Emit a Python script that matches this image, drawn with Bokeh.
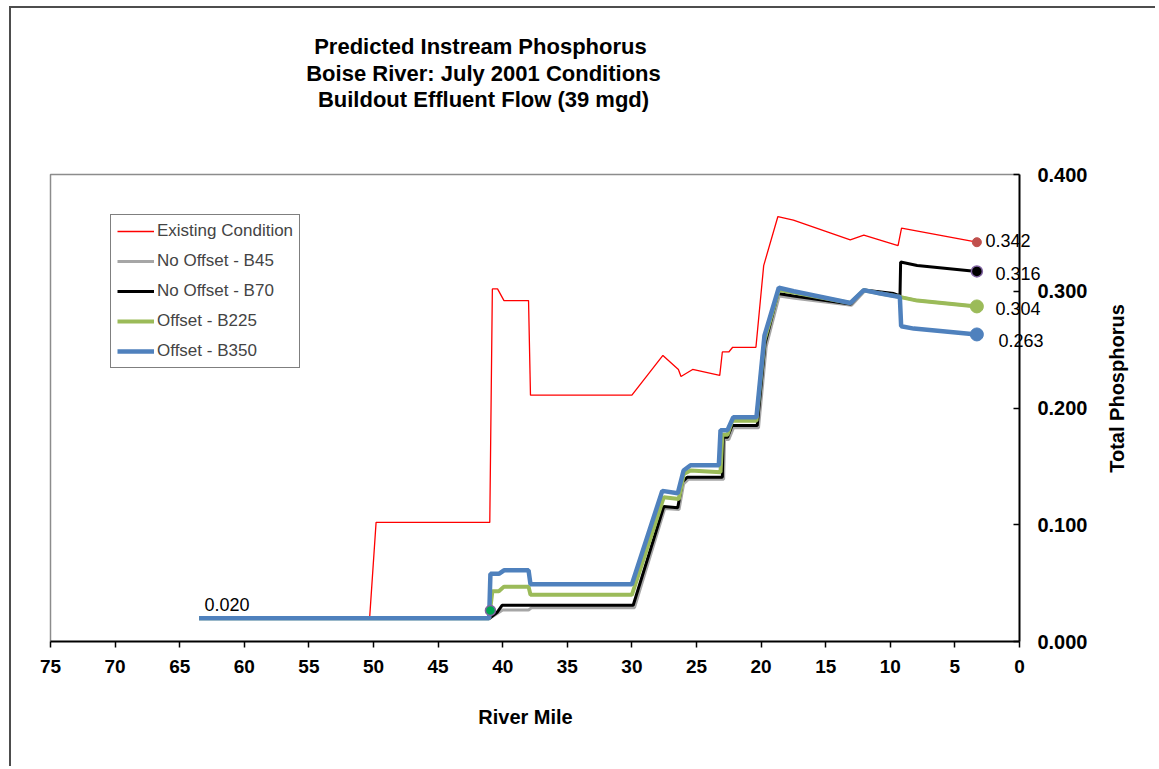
import math
from bokeh.plotting import figure
from bokeh.models import Range1d, Label, FixedTicker, PrintfTickFormatter
from bokeh.embed import file_html
from bokeh.resources import INLINE

FONT = "Liberation Sans"

# ---------------- data ----------------
title_lines = ["Predicted Instream  Phosphorus",
               "Boise River: July 2001 Conditions",
               "Buildout Effluent Flow (39 mgd)"]
x_title = "River Mile"
y_title = "Total Phosphorus"
x_ticks = [75, 70, 65, 60, 55, 50, 45, 40, 35, 30, 25, 20, 15, 10, 5, 0]
y_ticks = [0.0, 0.1, 0.2, 0.3, 0.4]

series_names = ["Existing Condition", "No Offset - B45", "No Offset - B70",
                "Offset - B225", "Offset - B350"]

existing_x = [63.5, 50.3, 49.8, 41.0, 40.8, 40.4, 39.9, 38.0, 37.85, 30.0, 27.6,
              26.4, 26.2, 25.3, 23.2, 23.0, 22.5, 22.2, 20.4, 19.8, 18.7, 17.5,
              13.1, 12.05, 9.4, 9.13, 3.3]
existing_y = [0.020, 0.020, 0.102, 0.102, 0.302, 0.302, 0.292, 0.292, 0.211, 0.211,
              0.245, 0.233, 0.227, 0.233, 0.228, 0.248, 0.248, 0.252, 0.252, 0.322,
              0.364, 0.361, 0.344, 0.348, 0.339, 0.354, 0.342]

b45_x = [63.5, 41.0, 40.43, 40.0, 38.0, 37.75, 29.8, 27.45, 26.35, 26.0, 25.62,
         22.9, 22.83, 22.5, 22.14, 20.2, 19.6, 18.6, 17.4, 13.0, 12.0, 9.7, 9.2,
         7.92, 3.3]
b45_y = [0.020, 0.020, 0.024, 0.027, 0.027, 0.029, 0.029, 0.114, 0.113, 0.135,
         0.139, 0.139, 0.173, 0.173, 0.183, 0.183, 0.253, 0.296, 0.294, 0.288,
         0.300, 0.297, 0.295, 0.292, 0.287]

b70_x = [63.5, 41.0, 40.43, 40.05, 29.9, 27.53, 26.45, 26.1, 25.72, 23.0, 22.93,
         22.6, 22.24, 20.3, 19.7, 18.7, 17.47, 13.08, 12.05, 9.73, 9.25, 9.2,
         7.92, 3.3]
b70_y = [0.020, 0.020, 0.025, 0.031, 0.031, 0.1156, 0.1145, 0.1365, 0.1407,
         0.1407, 0.175, 0.175, 0.185, 0.185, 0.255, 0.298, 0.296, 0.289, 0.301,
         0.298, 0.296, 0.325, 0.322, 0.317]

b225_x = [63.5, 41.05, 40.8, 40.3, 39.9, 38.0, 37.85, 30.0, 27.53, 26.37, 25.98,
          25.46, 23.14, 23.0, 22.6, 22.24, 20.36, 19.74, 18.63, 17.47, 13.08,
          12.05, 10.76, 9.2, 7.92, 3.3]
b225_y = [0.020, 0.020, 0.043, 0.043, 0.047, 0.047, 0.040, 0.040, 0.1236, 0.122,
          0.1436, 0.1465, 0.145, 0.177, 0.177, 0.189, 0.189, 0.258, 0.301, 0.299,
          0.290, 0.301, 0.298, 0.295, 0.292, 0.287]

b350_x = [63.5, 41.05, 40.95, 40.3, 39.9, 38.0, 37.85, 30.0, 27.65, 26.45, 26.0,
          25.46, 23.27, 23.14, 22.6, 22.16, 20.36, 19.74, 18.63, 17.47, 13.08,
          12.05, 10.76, 9.26, 9.16, 8.18, 3.3]
b350_y = [0.020, 0.020, 0.058, 0.058, 0.061, 0.061, 0.049, 0.049, 0.129, 0.127,
          0.1465, 0.151, 0.151, 0.181, 0.181, 0.192, 0.192, 0.262, 0.303, 0.300,
          0.290, 0.301, 0.298, 0.295, 0.270, 0.268, 0.263]

end_labels = ["0.342", "0.316", "0.304", "0.263"]
start_label = "0.020"
start_marker_x = [40.95]
start_marker_y = [0.0266]

# ---------------- layout (page pixels) ----------------
PX0, PY0 = 11, 8          # canvas origin on the page (after CSS margin+border)
W, H = 1146, 760
L, B = 8, 44              # left / bottom borders
AX_L, AX_R = 50, 1019     # page x of river mile 75 and 0
AX_T, AX_B = 174, 641     # page y of 0.4 and 0.0
sx = (AX_R - AX_L) / 75.0
sy = (AX_B - AX_T) / 0.4
fr_left, fr_top = PX0 + L, PY0
fr_right, fr_bottom = PX0 + W, PY0 + H - B


def dx(px):
    return (AX_R - px) / sx


def dy(py):
    return (AX_B - py) / sy


p = figure(width=W, height=H, output_backend="svg", toolbar_location=None,
           x_range=Range1d(dx(fr_left), dx(fr_right)),
           y_range=Range1d(dy(fr_bottom), dy(fr_top)),
           y_axis_location="left", x_axis_location="below",
           min_border_left=L, min_border_top=0,
           min_border_right=0, min_border_bottom=B)
p.styles = {"margin-left": "9px", "margin-top": "6px",
            "border-left": "2px solid #4d4d4d", "border-top": "2px solid #4d4d4d"}
p.background_fill_color = "white"
p.border_fill_color = "white"
p.outline_line_color = None
p.xgrid.visible = False
p.ygrid.visible = False

xa = p.xaxis[0]
xa.fixed_location = 0
xa.bounds = (0, 75)
xa.ticker = FixedTicker(ticks=x_ticks)
xa.major_tick_out = 6
xa.major_tick_in = 0
xa.minor_tick_out = 0
xa.minor_tick_in = 0
xa.axis_line_width = 2
xa.axis_line_color = "black"
xa.major_tick_line_width = 1.5
xa.major_label_text_font = FONT
xa.major_label_text_font_style = "bold"
xa.major_label_text_font_size = "19px"
xa.major_label_text_color = "black"
xa.major_label_standoff = 12

# value axis drawn at river mile 0, labels pushed to its right side
ya = p.yaxis[0]
ya.fixed_location = 0
ya.bounds = (0, 0.4)
ya.ticker = FixedTicker(ticks=y_ticks)
ya.formatter = PrintfTickFormatter(format="%.3f")
ya.major_tick_out = 6
ya.major_tick_in = 0
ya.minor_tick_out = 0
ya.minor_tick_in = 0
ya.axis_line_width = 2
ya.axis_line_color = "black"
ya.major_tick_line_width = 1.5
ya.major_label_text_font = FONT
ya.major_label_text_font_style = "bold"
ya.major_label_text_font_size = "20px"
ya.major_label_text_color = "black"
ya.major_label_standoff = -74

# plot-area border (top and left, grey)
p.line([75, 75, 0], [0, 0.4, 0.4], line_color="#8c8c8c", line_width=1.5)

# ---------------- lines ----------------
specs = [
    (existing_x, existing_y, "#ff0000", 1.3),
    (b45_x, b45_y, "#a6a6a6", 3),
    (b70_x, b70_y, "#000000", 3),
    (b225_x, b225_y, "#9bbb59", 4),
    (b350_x, b350_y, "#4f81bd", 4.5),
]
for (xs, ys, col, w), name in zip(specs, series_names):
    p.line(xs, ys, line_color=col, line_width=w, legend_label=name)

# end markers
p.scatter([existing_x[-1]], [existing_y[-1]], size=9, fill_color="#c0504d",
          line_color="#c0504d")
p.scatter([b70_x[-1]], [b70_y[-1]], size=11, fill_color="black",
          line_color="#8064a2", line_width=1.5)
p.scatter([b225_x[-1]], [b225_y[-1]], size=13, fill_color="#9bbb59",
          line_color="#9bbb59")
p.scatter([b350_x[-1]], [b350_y[-1]], size=13, fill_color="#4f81bd",
          line_color="#4f81bd")
p.scatter(start_marker_x, start_marker_y, size=10, fill_color="#00a651",
          line_color="#8064a2", line_width=1.5)

# ---------------- texts ----------------
label_px = [(985, 240), (995, 273), (995, 308), (998, 340)]
for t, (lx, ly) in zip(end_labels, label_px):
    p.add_layout(Label(x=dx(lx), y=dy(ly), text=t, text_align="left",
                       text_baseline="middle", text_font=FONT,
                       text_font_size="18px", text_color="black"))
p.add_layout(Label(x=dx(204), y=dy(604), text=start_label, text_align="left",
                   text_baseline="middle", text_font=FONT, text_font_size="18px",
                   text_color="black"))

for t, ty in zip(title_lines, [46, 73, 99]):
    p.add_layout(Label(x=dx(483), y=dy(ty), text=t, text_align="center",
                       text_baseline="middle", text_font=FONT,
                       text_font_style="bold", text_font_size="22px",
                       text_color="black"))

p.add_layout(Label(x=dx(525), y=dy(716), text=x_title, text_align="center",
                   text_baseline="middle", text_font=FONT, text_font_style="bold",
                   text_font_size="20px", text_color="black"))
p.add_layout(Label(x=dx(1116), y=dy(388), text=y_title, angle=math.pi / 2,
                   text_align="center", text_baseline="middle", text_font=FONT,
                   text_font_style="bold", text_font_size="20px",
                   text_color="black"))

# ---------------- legend ----------------
lg = p.legend[0]
lg.location = (110 - fr_left, fr_bottom - 368)
lg.border_line_color = "black"
lg.border_line_width = 1
lg.background_fill_color = "white"
lg.background_fill_alpha = 1
lg.label_text_font = FONT
lg.label_text_font_size = "17px"
lg.glyph_width = 37
lg.glyph_height = 20
lg.label_height = 20
lg.spacing = 10
lg.padding = 6
lg.margin = 0
lg.label_standoff = 3

open("out.html", "w").write(file_html(p, INLINE))
